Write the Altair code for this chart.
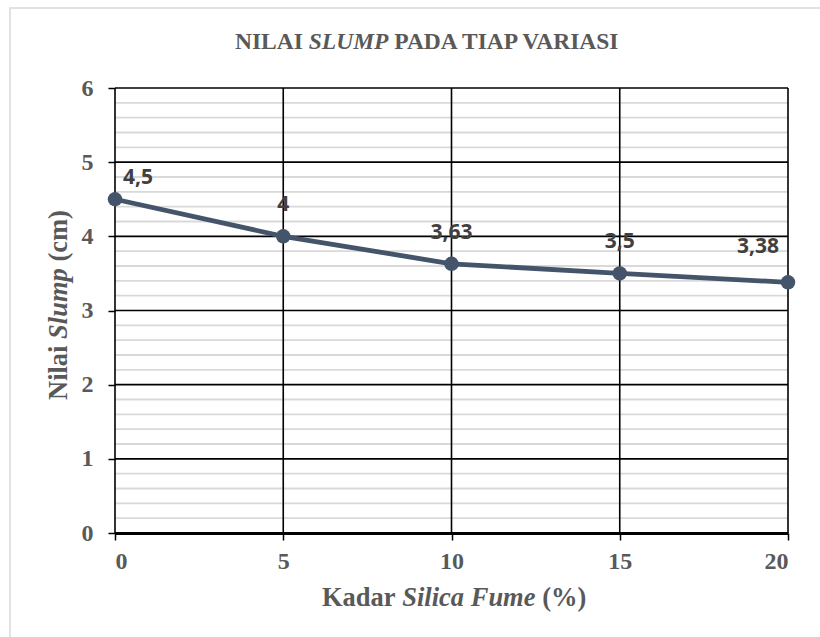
import altair as alt
import pandas as pd

# Slump test result per silica fume content
kadar = [0, 5, 10, 15, 20]
slump = [4.5, 4, 3.63, 3.5, 3.38]

# Axis ticks and grid positions
x_ticks = [0, 5, 10, 15, 20]
y_ticks = [0, 1, 2, 3, 4, 5, 6]
y_minor = [round(i * 0.2, 1) for i in range(31) if i % 5 != 0]

df = pd.DataFrame({
    "kadar": kadar,
    "slump": slump,
    "label": [f"{v:g}".replace(".", ",") for v in slump],
})

W, H = 673, 445
LINE = "#44546a"
TXT = "#595959"
SERIF = "Liberation Serif"
SANS = "Open Sans"

x_scale = alt.Scale(domain=[0, 20], nice=False, zero=False)
y_scale = alt.Scale(domain=[0, 6], nice=False)

x_axis = alt.Axis(
    values=x_ticks, grid=False, domain=True, domainColor="black", domainWidth=3,
    ticks=True, tickSize=7, tickColor="black", tickWidth=1.5,
    labelFont=SERIF, labelFontSize=24, labelFontWeight="bold", labelColor=TXT,
    labelPadding=9, title=None, zindex=1,
)
y_axis = alt.Axis(
    values=y_ticks, grid=False, domain=False,
    ticks=True, tickSize=7, tickColor="black", tickWidth=1.5,
    labelFont=SERIF, labelFontSize=24, labelFontWeight="bold", labelColor=TXT,
    labelPadding=15, title=None,
)

X = lambda f: alt.X(f, scale=x_scale, axis=x_axis)
Y = lambda f: alt.Y(f, scale=y_scale, axis=y_axis)

one = alt.Data(values=[{}])

# light outer frame around the whole figure
frame = alt.Chart(one).mark_rect(
    fill="white", fillOpacity=0, stroke="#d9d9d9", strokeWidth=1.5
).encode(x=alt.value(-105), x2=alt.value(730), y=alt.value(-80), y2=alt.value(570))

minor = alt.Chart(pd.DataFrame({"v": y_minor})).mark_rule(
    color="#d9d9d9", strokeWidth=1.8
).encode(y=Y("v:Q"))

major_h = alt.Chart(pd.DataFrame({"v": y_ticks})).mark_rule(
    color="black", strokeWidth=1.6
).encode(y=Y("v:Q"))

major_v = alt.Chart(pd.DataFrame({"k": x_ticks})).mark_rule(
    color="black", strokeWidth=1.6
).encode(x=X("k:Q"))

line = alt.Chart(df).mark_line(color=LINE, strokeWidth=4.8).encode(
    x=X("kadar:Q"), y=Y("slump:Q")
)
points = alt.Chart(df).mark_point(
    filled=True, shape="circle", size=210, color=LINE, opacity=1
).encode(x=X("kadar:Q"), y=Y("slump:Q"))


def value_labels(flt, dx, dy):
    return alt.Chart(df).transform_filter(flt).mark_text(
        font=SANS, fontSize=21, fontWeight="bold", color="#404040",
        dx=dx, dy=dy, baseline="middle", align="center",
    ).encode(x=X("kadar:Q"), y=Y("slump:Q"), text="label:N")


labels_first = value_labels("datum.kadar == 0", 23, -21)
labels_mid = value_labels("datum.kadar > 0 && datum.kadar < 20", 0, -31)
labels_last = value_labels("datum.kadar == 20", -30, -35)


def piece(text, x, y, size, italic=False, align="left", angle=0):
    return alt.Chart(one).mark_text(
        text=text, font=SERIF, fontSize=size, fontWeight="bold",
        fontStyle="italic" if italic else "normal",
        align=align, baseline="alphabetic", angle=angle, color=TXT,
    ).encode(x=alt.value(x), y=alt.value(y))


# Chart title: NILAI *SLUMP* PADA TIAP VARIASI
TF = 23.5
t_x0 = 120
t_i = t_x0 + 3.139 * TF
t_y = -39
title = [
    piece("NILAI", t_i - 0.25 * TF, t_y, TF, align="right"),
    piece("SLUMP", t_i, t_y, TF, italic=True),
    piece("PADA TIAP VARIASI", t_i + 3.389 * TF + 0.25 * TF, t_y, TF),
]

# X title: Kadar *Silica Fume* (%)
AF = 26.5
x_y = 518
x_i = 207 + 3.028 * AF
x_title = [
    piece("Kadar", x_i - 0.25 * AF, x_y, AF, align="right"),
    piece("Silica Fume", x_i, x_y, AF, italic=True),
    piece("(%)", x_i + 5.029 * AF + 0.25 * AF, x_y, AF),
]

# Y title: Nilai *Slump* (cm), reading bottom to top
y_x = -48
y_s = 312 - 2.306 * AF
y_title = [
    piece("Nilai", y_x, 312, AF, angle=270),
    piece("Slump", y_x, y_s, AF, italic=True, angle=270),
    piece("(cm)", y_x, y_s - 2.668 * AF - 0.25 * AF, AF, angle=270),
]

chart = alt.layer(
    frame, minor, major_h, major_v, line, points,
    labels_first, labels_mid, labels_last,
    *title, *x_title, *y_title,
).properties(
    width=W, height=H,
    autosize=alt.AutoSizeParams(type="none"),
    padding={"left": 115, "top": 88, "right": 32, "bottom": 104},
    background="white",
).configure_view(stroke=None)

chart.save("out.html", embed_options={"renderer": "svg", "actions": False})
